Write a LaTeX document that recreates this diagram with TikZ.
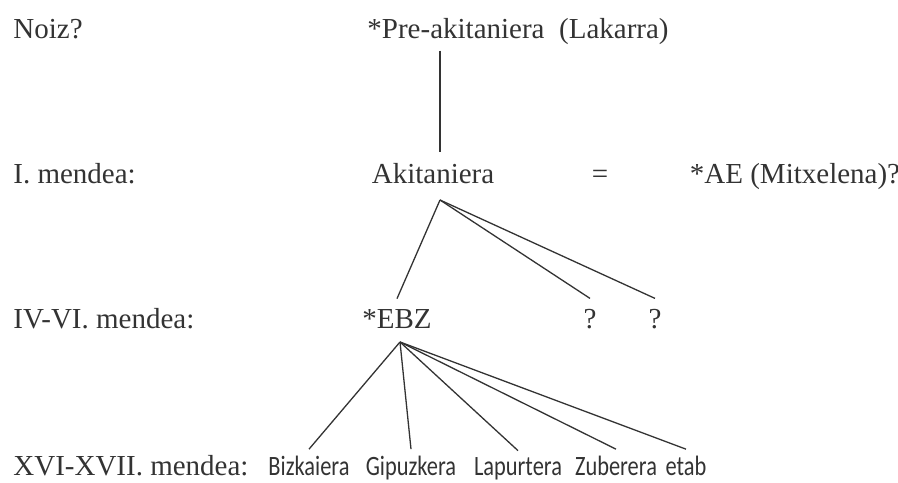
\documentclass[tikz,border=0pt]{standalone}
\usepackage{fontspec}
\setmainfont{Liberation Serif}
\newfontfamily\dialfont[FakeStretch=0.8]{Carlito}
\usetikzlibrary{positioning}

\begin{document}
\begin{tikzpicture}[
    x=0.5pt, y=-0.5pt,
    every node/.style={text=black!80},
    per/.style={anchor=base west, font=\fontsize{14.5}{16}\selectfont, inner sep=0pt},
    lang/.style={anchor=base, font=\fontsize{14.5}{16}\selectfont, inner sep=5pt},
    dial/.style={anchor=base, font=\dialfont\fontsize{14}{16}\selectfont, inner sep=3pt},
    br/.style={draw=black!80, line width=0.65pt}
  ]
    \useasboundingbox (0,0) rectangle (898,482);

    % --- garaiak ---
    \node[per] (p0) at (13, 38)  {Noiz?};
    \node[per] (p1) at (13, 183) {I. mendea:};
    \node[per] (p2) at (13, 328) {IV-VI. mendea:};
    \node[per] (p3) at (13, 475) {XVI-XVII. mendea:};

    % --- hizkuntzak ---
    \node[lang, inner sep=3pt] (pre) at (518, 38) {*Pre-akitaniera\ \ (Lakarra)};
    \node[lang] (aki) at (433, 183) {Akitaniera};
    \node[lang] (eq)  at (600, 183) {=};
    \node[lang] (ae)  at (795, 183) {*AE (Mitxelena)?};
    \node[lang] (ebz) at (397, 328) {*EBZ};
    \node[lang] (q1)  at (590, 328) {?};
    \node[lang] (q2)  at (655, 328) {?};

    % --- euskalkiak ---
    \node[dial] (biz) at (309, 475) {Bizkaiera};
    \node[dial] (gip) at (411, 475) {Gipuzkera};
    \node[dial] (lap) at (518, 475) {Lapurtera};
    \node[dial] (zub) at (616, 475) {Zuberera};
    \node[dial] (eta) at (686, 475) {etab};

    \coordinate (akib) at (440, 200);
    \coordinate (ebzb) at (400, 342);

    \draw[br] (pre.south -| akib) -- (aki.north -| akib);
    \draw[br] (akib) -- (ebz.north);
    \draw[br] (akib) -- (q1.north);
    \draw[br] (akib) -- (q2.north);
    \foreach \d in {biz, gip, lap, zub, eta}
      \draw[br] (ebzb) -- (\d.north);
  \end{tikzpicture}
\end{document}
